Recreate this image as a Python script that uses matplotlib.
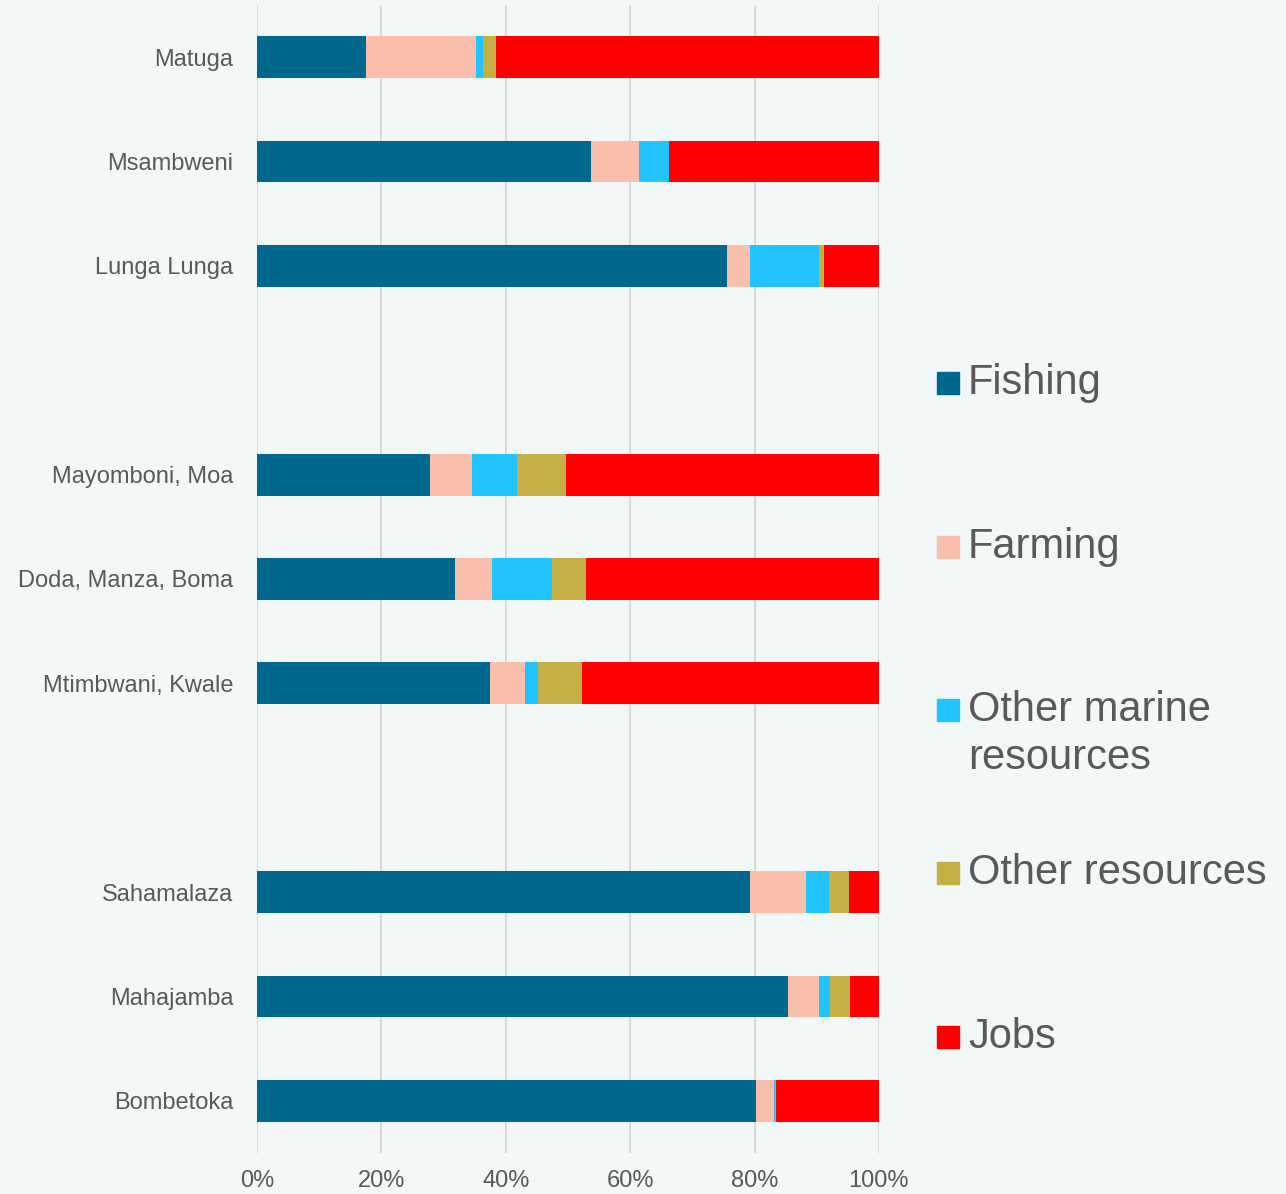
import numpy as np
import matplotlib.pyplot as plt
from matplotlib.patches import Rectangle

plt.rcParams['font.family'] = ['Liberation Sans', 'DejaVu Sans']

# sites, top to bottom, in three groups
groups = [
    ['Matuga', 'Msambweni', 'Lunga Lunga'],
    ['Mayomboni, Moa', 'Doda, Manza, Boma', 'Mtimbwani, Kwale'],
    ['Sahamalaza', 'Mahajamba', 'Bombetoka'],
]

# share of households (%) per livelihood
fishing       = [17.5, 53.7, 75.6, 27.8, 31.8, 37.5, 79.3, 85.4, 80.2]
farming       = [17.7,  7.7,  3.7,  6.7,  6.0,  5.6,  8.9,  4.9,  2.9]
other_marine  = [ 1.1,  4.9, 11.0,  7.3,  9.6,  2.1,  3.7,  1.9,  0.1]
other_res     = [ 2.1,  0.0,  0.8,  7.9,  5.5,  7.1,  3.2,  3.1,  0.3]
jobs          = [61.6, 33.7,  8.9, 50.3, 47.1, 47.7,  4.9,  4.7, 16.5]

series = ['Fishing', 'Farming', 'Other marine\nresources', 'Other resources', 'Jobs']
colours = ['#00678F', '#F9BFAB', '#22C4FF', '#C5AE44', '#FF0000']

bg = '#F2F7F7'
grey = '#595959'

# one empty row between groups
labels, ypos = [], []
row = 0
for g in groups:
    for name in g:
        labels.append(name)
        ypos.append(row)
        row += 1
    row += 1
ypos = np.array(ypos)

fig = plt.figure(figsize=(12.86, 11.94), dpi=100, facecolor=bg)
ax = fig.add_axes([257 / 1286, 41 / 1194, 622 / 1286, 1148 / 1194])
ax.set_facecolor(bg)

data = [fishing, farming, other_marine, other_res, jobs]
left = np.zeros(len(labels))
for vals, c in zip(data, colours):
    vals = np.array(vals)
    ax.barh(ypos, vals, left=left, height=0.4, color=c, linewidth=0, zorder=3)
    left += vals

ax.set_xlim(0, 100)
ax.set_ylim(10.5, -0.5)
ax.set_xticks(np.arange(0, 101, 20))
ax.set_xticklabels([f'{v}%' for v in range(0, 101, 20)])
ax.set_yticks(ypos)
ax.set_yticklabels(labels)
ax.tick_params(axis='x', length=0, pad=12, labelsize=17, labelcolor=grey)
ax.tick_params(axis='y', length=0, pad=17, labelsize=17, labelcolor=grey)
ax.grid(axis='x', color='#D9D9D9', linewidth=1.5, zorder=0)
for s in ax.spines.values():
    s.set_visible(False)

# legend on the right; square sits on the first text line
leg_y = [383, 547, 710, 873, 1037]
for name, c, y in zip(series, colours, leg_y):
    fig.add_artist(Rectangle((937 / 1286, (1194 - y - 11) / 1194), 22 / 1286, 22 / 1194,
                             transform=fig.transFigure, color=c))
    for k, line in enumerate(name.split('\n')):
        fig.text(968 / 1286, (1194 - y - 48 * k) / 1194, line, fontsize=30,
                 color=grey, va='center', ha='left')

fig.savefig('out.png', dpi=100, facecolor=bg)
